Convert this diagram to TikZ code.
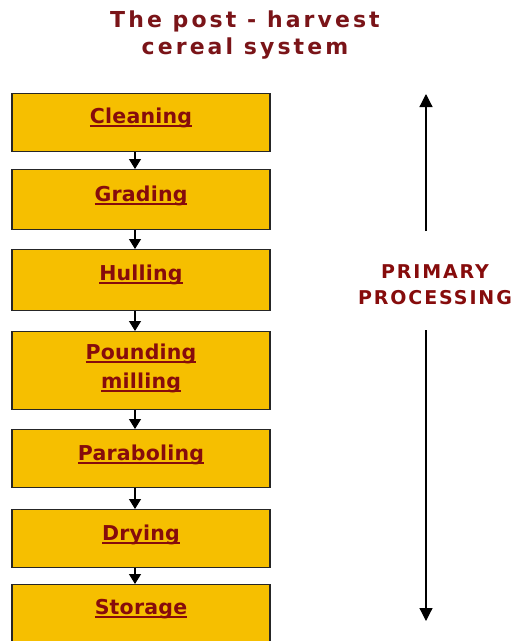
\documentclass[tikz,border=0pt]{standalone}
\usepackage{fontspec}
\usetikzlibrary{arrows.meta}
\newfontfamily\titlefont{DejaVu Sans}[LetterSpace=14]
\newfontfamily\labfont{DejaVu Sans}[LetterSpace=1]
\newfontfamily\sidefont{DejaVu Sans}[LetterSpace=10]
\newcommand\myul[1]{\setbox0\hbox{#1}\rlap{\rule[-3.5pt]{\wd0}{1.8pt}}\box0}
\definecolor{boxfill}{HTML}{F6BF00}
\definecolor{txtred}{HTML}{860C0C}
\definecolor{ttlred}{HTML}{7A1418}
\tikzset{
  stage/.style={draw=black!85, line width=1.3pt, fill=boxfill, minimum width=258pt, anchor=north, inner sep=0pt},
  lab/.style={text=txtred, font=\labfont\bfseries\fontsize{20.5}{29}\selectfont, align=center},
  flow/.style={line width=1.2pt, -{Triangle[width=12pt,length=10pt]}},
  span/.style={line width=1.2pt, -{Triangle[width=13pt,length=13pt]}}
}
\begin{document}
\begin{tikzpicture}[x=1pt,y=-1pt]
\useasboundingbox (0,0) rectangle (517,641);
\node[text=ttlred, font=\titlefont\bfseries\fontsize{22}{27}\selectfont, align=center] (title) at (245,35)
  {The post - harvest\\cereal system};
\node[stage, minimum height=58pt] (clean) at (141,93) {};
\node[lab] (cleant) at (141,118) {\myul{Cleaning}};
\node[stage, minimum height=60pt] (grad) at (141,169) {};
\node[lab] (gradt) at (141,196) {\myul{Grading}};
\node[stage, minimum height=61pt] (hull) at (141,249) {};
\node[lab] (hullt) at (141,275) {\myul{Hulling}};
\node[stage, minimum height=78pt] (pound) at (141,331) {};
\node[lab] (poundt) at (141,368) {\myul{Pounding}\\\myul{milling}};
\node[stage, minimum height=58pt] (parab) at (141,429) {};
\node[lab] (parabt) at (141,455) {\myul{Paraboling}};
\node[stage, minimum height=58pt] (dry) at (141,509) {};
\node[lab] (dryt) at (141,535) {\myul{Drying}};
\node[stage, minimum height=80pt] (stor) at (141,584) {};
\node[lab] (stort) at (141,609) {\myul{Storage}};
\draw[flow] ([xshift=-6pt]clean.south) -- ([xshift=-6pt]grad.north);
\draw[flow] ([xshift=-6pt]grad.south) -- ([xshift=-6pt]hull.north);
\draw[flow] ([xshift=-6pt]hull.south) -- ([xshift=-6pt]pound.north);
\draw[flow] ([xshift=-6pt]pound.south) -- ([xshift=-6pt]parab.north);
\draw[flow] ([xshift=-6pt]parab.south) -- ([xshift=-6pt]dry.north);
\draw[flow] ([xshift=-6pt]dry.south) -- ([xshift=-6pt]stor.north);
\node[text=txtred, font=\sidefont\bfseries\fontsize{19}{26}\selectfont, align=center] (prim) at (435,285) {PRIMARY\\PROCESSING};
\coordinate (uptop) at (426,94);
\coordinate (upbot) at (426,231);
\coordinate (dntop) at (426,330);
\coordinate (dnbot) at (426,621);
\draw[span] (upbot) -- (uptop);
\draw[span] (dntop) -- (dnbot);
\end{tikzpicture}
\end{document}
